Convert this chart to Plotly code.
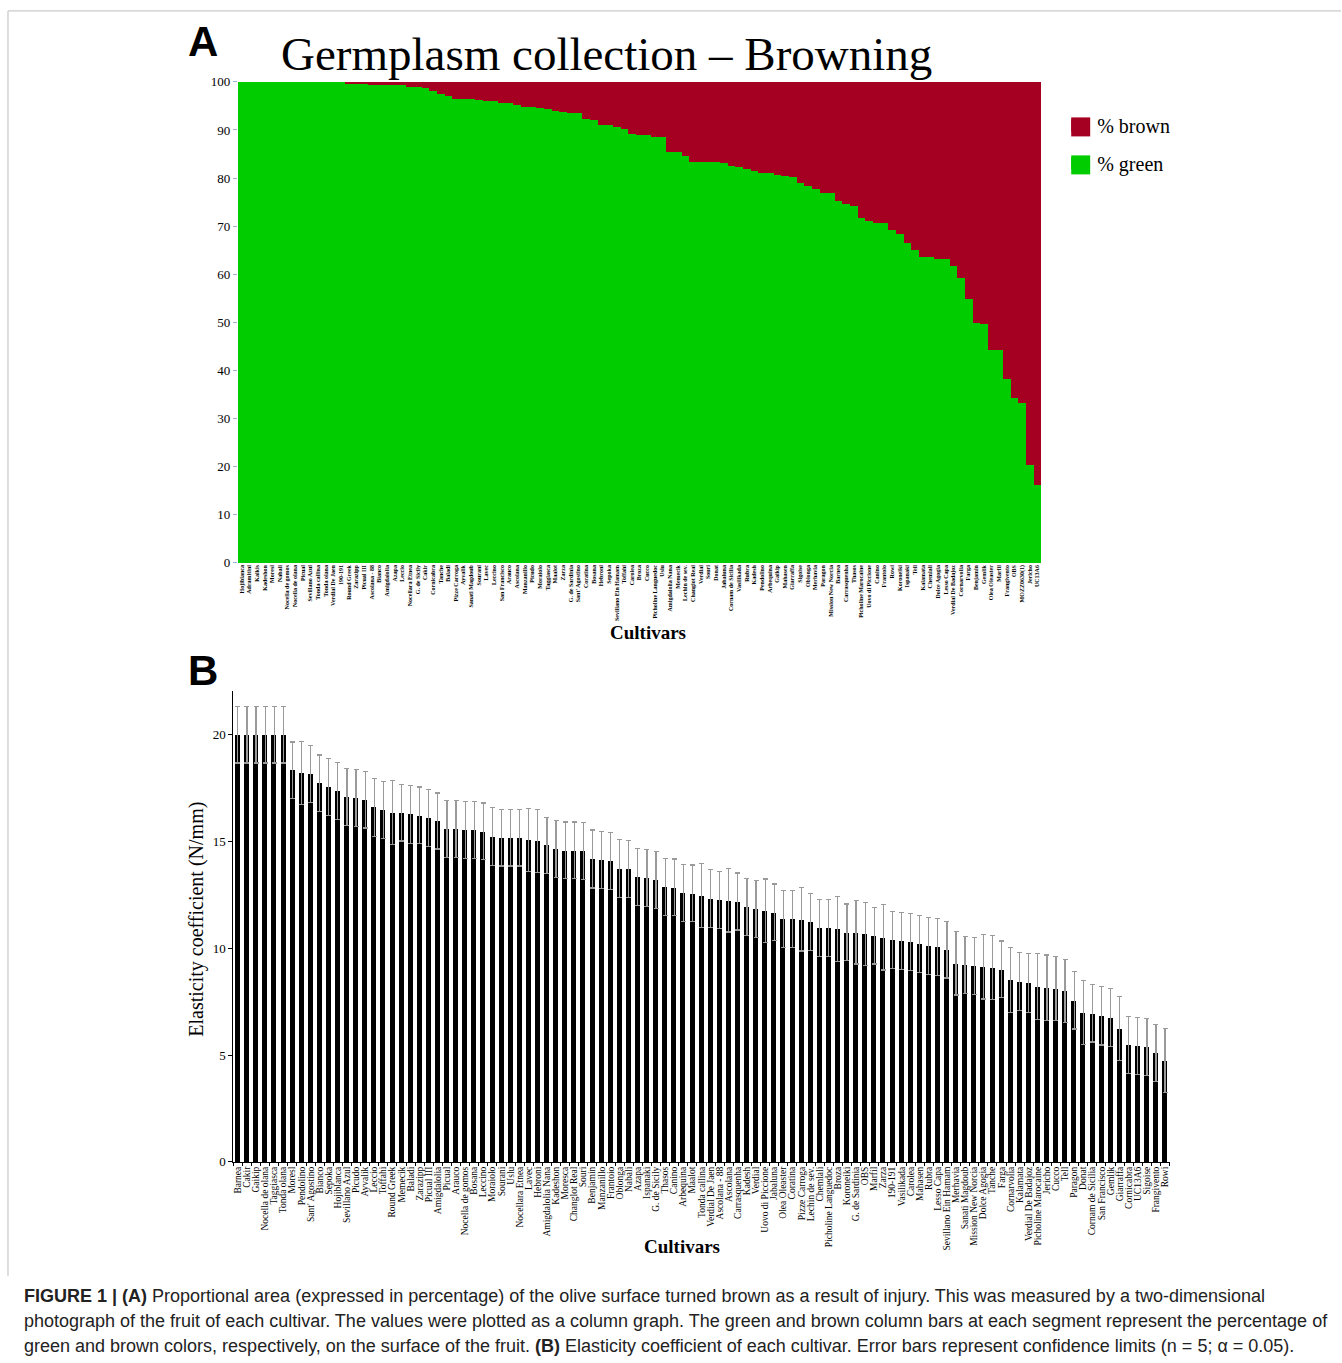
import plotly.graph_objects as go

# ---------------- Panel A data ----------------
cultivars_a = [
    "Hojiblanca", "Adramitini", "Kalkis", "Kadeshon", "Moresl", "Nabali", "Nocella de gomos",
    "Nocella de olana", "Picual", "Sevillano Azul", "Tonda callina", "Tonda olana", "Verdial De Jaen",
    "190-191", "Round Greek", "Zarazipp", "Picual III", "Ascolana - 88", "Bianco", "Amigdalolia",
    "Azapa", "Leccio", "Nocellara Etnea", "G. de Sicily", "Cakir", "Cornicabra", "Tanche",
    "Baladi", "Pizze Carroga", "Ayvalik", "Sanati Magdoub", "Sourani", "Lavec", "Leccino",
    "San Francisco", "Arauco", "Ascolana", "Manzanillo", "Picudo", "Moraiolo", "Taggiasca",
    "Maalot", "Zarza", "G. de Sardinia", "Sant' Agostino", "Coratina", "Bosana", "Hebroni",
    "Sepoka", "Sevillano Ein Hamam", "Toffahi", "Carolea", "Broza", "Cucco", "Picholine Languedoc",
    "Uslu", "Amigdalolia Nana", "Memecik", "Lechin de sev.", "Changlot Real", "Verdial", "Souri",
    "Donat", "Jabaluna", "Cornam de Sicilia", "Vasilikada", "Rubra", "Kadesh", "Pendolino",
    "Arbequina", "Gaikip", "Mahasen", "Giarraffa", "Sigoise", "Oblonga", "Merhavia", "Paragon",
    "Mission New Norcia", "Barnea", "Carrasquenha", "Thasos", "Picholine Marocaine",
    "Uovo di Piccione", "Canino", "Frantoio", "Rowi", "Koroneiki", "Ispanaki", "Tell", "Kalamata",
    "Chemlali", "Dolce Agogia", "Lesso Capa", "Verdial De Badajoz", "Cornarvolia", "Farga",
    "Benjamin", "Gemlik", "Olea Oleaster", "Marfil", "Frangivento", "OBS", "MOZZ0630(1)",
    "Jericho", "UC13A6",
]

pct_green = [
    100, 100, 100, 100, 100, 100, 100, 100, 100, 100, 100, 100, 100, 100,
    99.7, 99.7, 99.7, 99.4, 99.4, 99.4, 99.4, 99.3, 99.0, 99.0, 98.7, 98.2, 97.6, 97.1,
    96.5, 96.5, 96.5, 96.3, 96.1, 96.0, 95.7, 95.7, 95.3, 94.9, 94.9, 94.5, 94.3, 93.9,
    93.7, 93.5, 93.5, 92.4, 92.0, 91.1, 91.1, 90.7, 90.2, 89.1, 88.9, 88.9, 88.5, 88.5,
    85.4, 85.4, 84.6, 83.4, 83.4, 83.4, 83.4, 83.1, 82.6, 82.3, 81.9, 81.4, 81.1, 81.1,
    80.7, 80.5, 80.2, 78.9, 78.4, 77.8, 76.9, 76.9, 75.3, 74.6, 74.2, 71.8, 71.0, 70.7,
    70.7, 69.2, 68.3, 66.6, 65.1, 63.6, 63.6, 63.1, 63.1, 61.8, 59.3, 54.9, 50.0, 49.7,
    44.3, 44.3, 38.3, 34.4, 33.2, 20.4, 16.2,
]
pct_brown = [round(100 - g, 1) for g in pct_green]

# ---------------- Panel B data ----------------
cultivars_b = [
    "Barnea", "Cakir", "Gaikip", "Nocella de olana", "Taggiasca", "Tonda olana", "Moresl",
    "Pendolino", "Sant' Agostino", "Bianco", "Sepoka", "Hojiblanca", "Sevillano Azul", "Picudo",
    "Ayvalik", "Leccio", "Toffahi", "Round Greek", "Memecik", "Baladi", "Zarazipp", "Picual III",
    "Amigdalolia", "Picual", "Arauco", "Nocella de gomos", "Bosana", "Leccino", "Moraiolo",
    "Sourani", "Uslu", "Nocellara Etnea", "Lavec", "Hebroni", "Amigdalolia Nana", "Kadeshon",
    "Moresca", "Changlot Real", "Souri", "Benjamin", "Manzanillo", "Frantoio", "Oblonga",
    "Nabali", "Azapa", "Ispanaki", "G. de Sicily", "Thasos", "Canino", "Arbequina", "Maalot",
    "Tonda callina", "Verdial De Jaen", "Ascolana - 88", "Ascolana", "Carrasquenha", "Kadesh",
    "Verdial", "Uovo di Piccione", "Jabaluna", "Olea Oleaster", "Coratina", "Pizze Carroga",
    "Lechin de sev.", "Chemlali", "Picholine Languedoc", "Broza", "Koroneiki", "G. de Sardinia",
    "OBS", "Marfil", "Zarza", "190-191", "Vasilikada", "Carolea", "Mahasen", "Rubra",
    "Lesso Capa", "Sevillano Ein Hamam", "Merhavia", "Sanati Magdoub", "Mission New Norcia",
    "Dolce Agogia", "Tanche", "Farga", "Cornarvolia", "Kalamata", "Verdial De Badajoz",
    "Picholine Marocaine", "Jericho", "Cucco", "Tell", "Paragon", "Donat", "Cornam de Sicilia",
    "San Francisco", "Gemlik", "Giarraffa", "Cornicabra", "UC13A6", "Sigoise", "Frangivento",
    "Rowi",
]

elasticity = [
    20.0, 20.0, 20.0, 20.0, 20.0, 20.0, 18.33, 18.2, 18.16, 17.72, 17.55, 17.36, 17.08, 17.03,
    16.96, 16.6, 16.47, 16.35, 16.35, 16.27, 16.22, 16.11, 15.96, 15.58, 15.58, 15.55, 15.55,
    15.47, 15.22, 15.18, 15.18, 15.18, 15.07, 15.02, 14.82, 14.64, 14.58, 14.58, 14.55, 14.18,
    14.13, 14.1, 13.72, 13.72, 13.33, 13.29, 13.21, 12.88, 12.85, 12.6, 12.57, 12.47, 12.32,
    12.27, 12.24, 12.19, 11.94, 11.84, 11.76, 11.68, 11.38, 11.38, 11.35, 11.23, 10.95, 10.95,
    10.9, 10.74, 10.74, 10.66, 10.59, 10.51, 10.38, 10.35, 10.3, 10.2, 10.1, 10.07, 9.94, 9.29,
    9.21, 9.17, 9.13, 9.09, 9.01, 8.52, 8.45, 8.37, 8.2, 8.16, 8.12, 8.01, 7.56, 6.99, 6.95,
    6.84, 6.76, 6.23, 5.46, 5.42, 5.39, 5.1, 4.73,
]

conf_limit = [
    1.33, 1.33, 1.33, 1.33, 1.33, 1.33, 1.33, 1.48, 1.33, 1.33, 1.33, 1.33, 1.33, 1.33, 1.33,
    1.36, 1.33, 1.5, 1.33, 1.36, 1.33, 1.33, 1.31, 1.33, 1.33, 1.33, 1.33, 1.33, 1.36, 1.33,
    1.33, 1.33, 1.47, 1.48, 1.31, 1.33, 1.33, 1.33, 1.33, 1.36, 1.33, 1.33, 1.36, 1.33, 1.33,
    1.33, 1.33, 1.33, 1.33, 1.33, 1.33, 1.5, 1.36, 1.33, 1.48, 1.33, 1.33, 1.33, 1.48, 1.33,
    1.33, 1.33, 1.48, 1.33, 1.33, 1.33, 1.53, 1.33, 1.48, 1.48, 1.33, 1.53, 1.33, 1.33, 1.33,
    1.33, 1.33, 1.33, 1.33, 1.48, 1.33, 1.33, 1.5, 1.5, 1.33, 1.53, 1.37, 1.37, 1.55, 1.53,
    1.5, 1.48, 1.34, 1.51, 1.34, 1.37, 1.36, 1.5, 1.33, 1.33, 1.33, 1.33, 1.5,
]

assert len(set(cultivars_a)) == len(cultivars_a) == len(pct_green)
assert len(set(cultivars_b)) == len(cultivars_b) == len(elasticity) == len(conf_limit)

W, H = 1342, 1363
def px(x):
    return x / W
def py(y):
    # vertical positions in target-picture pixels (small empirical correction for the capture)
    yc = (y - 6.1) / 0.989
    return 1 - yc / H

SERIF = "Liberation Serif"
SANS = "Liberation Sans"
GREEN = "#00CC00"
BROWN = "#A50021"

fig = go.Figure()

fig.add_trace(go.Bar(
    x=cultivars_a, y=pct_green, name="% green", legendgroup="green", legendrank=2,
    marker=dict(color=GREEN, line=dict(width=0)),
    xaxis="x", yaxis="y", hovertemplate="%{x}: %{y}%<extra>% green</extra>",
))
fig.add_trace(go.Bar(
    x=cultivars_a, y=pct_brown, name="% brown", legendgroup="brown", legendrank=1,
    marker=dict(color=BROWN, line=dict(width=0)),
    xaxis="x", yaxis="y", hovertemplate="%{x}: %{y}%<extra>% brown</extra>",
))
fig.add_trace(go.Bar(
    x=cultivars_b, y=elasticity, name="Elasticity", showlegend=False, width=0.55,
    marker=dict(color="#000000", line=dict(width=0)),
    error_y=dict(type="data", array=conf_limit, visible=True, color="#9a9a9a", thickness=1.2, width=2.5),
    xaxis="x2", yaxis="y2",
))

fig.update_layout(
    width=W, height=H,
    margin=dict(l=0, r=0, t=0, b=0),
    paper_bgcolor="white", plot_bgcolor="white",
    barmode="stack", bargap=0,
    font=dict(family=SERIF, color="#000"),
    showlegend=True,
    legend=dict(x=px(1058), y=py(105), xanchor="left", yanchor="top", traceorder="grouped",
                font=dict(family=SERIF, size=20, color="#000"), itemwidth=30,
                bgcolor="rgba(0,0,0,0)", tracegroupgap=9),
    xaxis=dict(domain=[px(238), px(1042)], anchor="y", type="category",
               tickmode="array", tickvals=cultivars_a, ticktext=cultivars_a,
               tickangle=-90, tickfont=dict(family=SERIF, size=6, weight="bold"),
               showline=False, ticks="", showgrid=False, zeroline=False, fixedrange=True),
    yaxis=dict(domain=[py(562), py(81)], anchor="x", range=[0, 100],
               tickmode="array", tickvals=list(range(0, 101, 10)),
               tickfont=dict(family=SERIF, size=13), ticks="outside", ticklen=4,
               tickcolor="#9fb4d2", showline=False, showgrid=False, zeroline=False),
    xaxis2=dict(domain=[px(233.5), px(1170.5)], anchor="y2", type="category",
                tickmode="array", tickvals=cultivars_b, ticktext=cultivars_b,
                tickangle=-90, tickfont=dict(family=SERIF, size=9.5),
                showline=True, linecolor="#000", linewidth=1, ticks="outside", ticklen=3,
                tickson="boundaries", tickcolor="#000", showgrid=False, zeroline=False),
    yaxis2=dict(domain=[py(1161), py(690)], anchor="x2", range=[0, 22.05],
                tickmode="array", tickvals=[0, 5, 10, 15, 20],
                tickfont=dict(family=SERIF, size=13), ticks="outside", ticklen=4,
                tickcolor="#000", showline=True, linecolor="#000", linewidth=1,
                showgrid=False, zeroline=False),
)

ann = [
    dict(text="<b>A</b>", x=px(186), y=py(41), xanchor="left", yanchor="middle",
         font=dict(family=SANS, size=42, color="#000")),
    dict(text="<b>B</b>", x=px(186), y=py(670), xanchor="left", yanchor="middle",
         font=dict(family=SANS, size=42, color="#000")),
    dict(text="Germplasm collection – Browning", x=px(607), y=py(53), xanchor="center", yanchor="middle",
         font=dict(family=SERIF, size=47, color="#000")),
    dict(text="<b>Cultivars</b>", x=px(648), y=py(632), xanchor="center", yanchor="middle",
         font=dict(family=SERIF, size=19, color="#000")),
    dict(text="<b>Cultivars</b>", x=px(683), y=py(1246), xanchor="center", yanchor="middle",
         font=dict(family=SERIF, size=19, color="#000")),
    dict(text="Elasticity coefficient (N/mm)", x=px(197), y=py(918), xanchor="center", yanchor="middle",
         textangle=-90, font=dict(family=SERIF, size=20, color="#000")),
]
caption = [
    "<b>FIGURE 1 | (A)</b> Proportional area (expressed in percentage) of the olive surface turned brown as a result of injury. This was measured by a two-dimensional",
    "photograph of the fruit of each cultivar. The values were plotted as a column graph. The green and brown column bars at each segment represent the percentage of",
    "green and brown colors, respectively, on the surface of the fruit. <b>(B)</b> Elasticity coefficient of each cultivar. Error bars represent confidence limits (n = 5; α = 0.05).",
]
for i, line in enumerate(caption):
    ann.append(dict(text=line, x=px(22), y=py(1295 + 25 * i), xanchor="left", yanchor="middle",
                    font=dict(family=SANS, size=18, color="#222")))
for a in ann:
    a.update(xref="paper", yref="paper", showarrow=False)
fig.update_layout(annotations=ann)

shapes = [
    dict(type="line", xref="paper", yref="paper", x0=px(8), x1=1, y0=py(10), y1=py(10),
         line=dict(color="#bdbdbd", width=1)),
    dict(type="line", xref="paper", yref="paper", x0=px(8), x1=px(8), y0=py(10), y1=py(1275),
         line=dict(color="#bdbdbd", width=1)),
]
# enlarge the legend swatches to the reference's 20px squares
for yc, col in [(126, BROWN), (164, GREEN)]:
    shapes.append(dict(type="rect", xref="paper", yref="paper", layer="above",
                       x0=px(1072), x1=px(1091), y0=py(yc + 9.5), y1=py(yc - 9.5),
                       fillcolor=col, line=dict(width=0)))
fig.update_layout(shapes=shapes)

fig.write_html("out.html", config={"displayModeBar": False},
               post_script="document.body.style.margin='0';")
